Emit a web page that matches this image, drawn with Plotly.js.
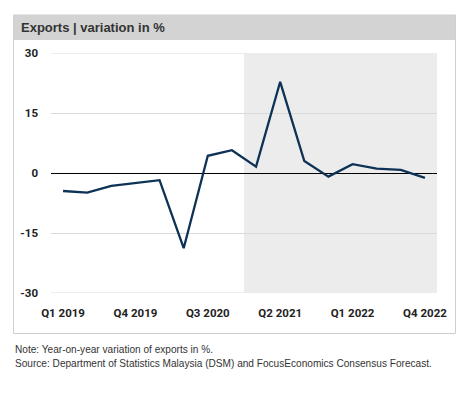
<!DOCTYPE html>
<html>
<head>
<meta charset="utf-8">
<script src="https://cdn.plot.ly/plotly-3.0.1.min.js"></script>
<style>html,body{margin:0;padding:0;background:#fff;}#chart{width:463px;height:397px;}</style>
</head>
<body>
<div id="chart"></div>
<script>
const quarters = ['Q1 2019','Q2 2019','Q3 2019','Q4 2019','Q1 2020','Q2 2020','Q3 2020','Q4 2020',
                  'Q1 2021','Q2 2021','Q3 2021','Q4 2021','Q1 2022','Q2 2022','Q3 2022','Q4 2022'];
const exportsVar = [-4.5, -4.9, -3.2, -2.5, -1.8, -18.8, 4.3, 5.7, 1.6, 22.8, 3.0, -0.9, 2.2, 1.1, 0.8, -1.2];
const tickLabels = ['Q1 2019','Q4 2019','Q3 2020','Q2 2021','Q1 2022','Q4 2022'];
const yTicks = [-30, -15, 0, 15, 30];
const forecastFrom = 'Q1 2021';

const fcIdx = quarters.indexOf(forecastFrom);
const yMin = Math.min(...yTicks), yMax = Math.max(...yTicks);

// pixel helpers for decoration (paper coords)
const L = 51, R = 437, T = 53, B = 293, W = 463, H = 397;
const px = v => (v - L) / (R - L);
const py = v => (B - v) / (B - T);

const tickFont = {family: 'Roboto, sans-serif', size: 11.5, color: '#222', weight: 700};

const data = [{
  x: quarters,
  y: exportsVar,
  type: 'scatter',
  mode: 'lines',
  line: {color: '#0d3256', width: 2.3},
  hoverinfo: 'skip'
}];

const edgeGrid = [yMin, yMax].map(v => ({
  type: 'line', xref: 'paper', yref: 'y', x0: 0, x1: 1, y0: v, y1: v,
  line: {color: '#d9d9d9', width: 1}, layer: 'below'
}));

const layout = {
  width: W, height: H,
  margin: {l: L, r: W - R, t: T, b: H - B},
  paper_bgcolor: '#fff',
  plot_bgcolor: 'rgba(0,0,0,0)',
  showlegend: false,
  xaxis: {
    type: 'category',
    range: [-0.5, quarters.length - 0.5],
    tickmode: 'array',
    tickvals: tickLabels,
    ticktext: tickLabels,
    showgrid: false,
    zeroline: false,
    showline: false,
    ticks: '',
    tickfont: tickFont,
    ticklabelstandoff: 11,
    fixedrange: true
  },
  yaxis: {
    range: [yMin, yMax],
    tickmode: 'array',
    tickvals: yTicks,
    ticktext: yTicks.map(String),
    showgrid: true,
    gridcolor: '#d9d9d9',
    gridwidth: 1,
    zeroline: true,
    zerolinecolor: '#000',
    zerolinewidth: 1,
    showline: false,
    ticks: '',
    tickfont: tickFont,
    ticklabelstandoff: 12,
    fixedrange: true
  },
  shapes: [
    {type: 'rect', xref: 'x', yref: 'y', x0: fcIdx - 0.5, x1: quarters.length - 0.5, y0: yMin, y1: yMax,
     fillcolor: '#ececec', line: {width: 0}, layer: 'below'},
    ...edgeGrid,
    {type: 'rect', xref: 'paper', yref: 'paper', x0: px(13), x1: px(455), y0: py(40), y1: py(15),
     fillcolor: '#d3d3d3', line: {width: 0}, layer: 'below'},
    {type: 'rect', xref: 'paper', yref: 'paper', x0: px(13.5), x1: px(455.5), y0: py(333.5), y1: py(15),
     fillcolor: 'rgba(0,0,0,0)', line: {color: '#cfcfcf', width: 1}, layer: 'below'}
  ],
  annotations: [
    {text: '<b>Exports | variation in %</b>', xref: 'paper', yref: 'paper', x: px(19), y: py(27.5),
     xanchor: 'left', yanchor: 'middle', showarrow: false,
     font: {family: 'Liberation Sans, Arial, sans-serif', size: 13, color: '#333'}},
    {text: 'Note: Year-on-year variation of exports in %.', xref: 'paper', yref: 'paper', x: px(13), y: py(349),
     xanchor: 'left', yanchor: 'middle', showarrow: false,
     font: {family: 'Liberation Sans, Arial, sans-serif', size: 10.1, color: '#333'}},
    {text: 'Source: Department of Statistics Malaysia (DSM) and FocusEconomics Consensus Forecast.', xref: 'paper', yref: 'paper', x: px(13), y: py(363),
     xanchor: 'left', yanchor: 'middle', showarrow: false,
     font: {family: 'Liberation Sans, Arial, sans-serif', size: 10.1, color: '#333'}}
  ]
};

Plotly.newPlot('chart', data, layout, {staticPlot: true, displayModeBar: false});
</script>
</body>
</html>
